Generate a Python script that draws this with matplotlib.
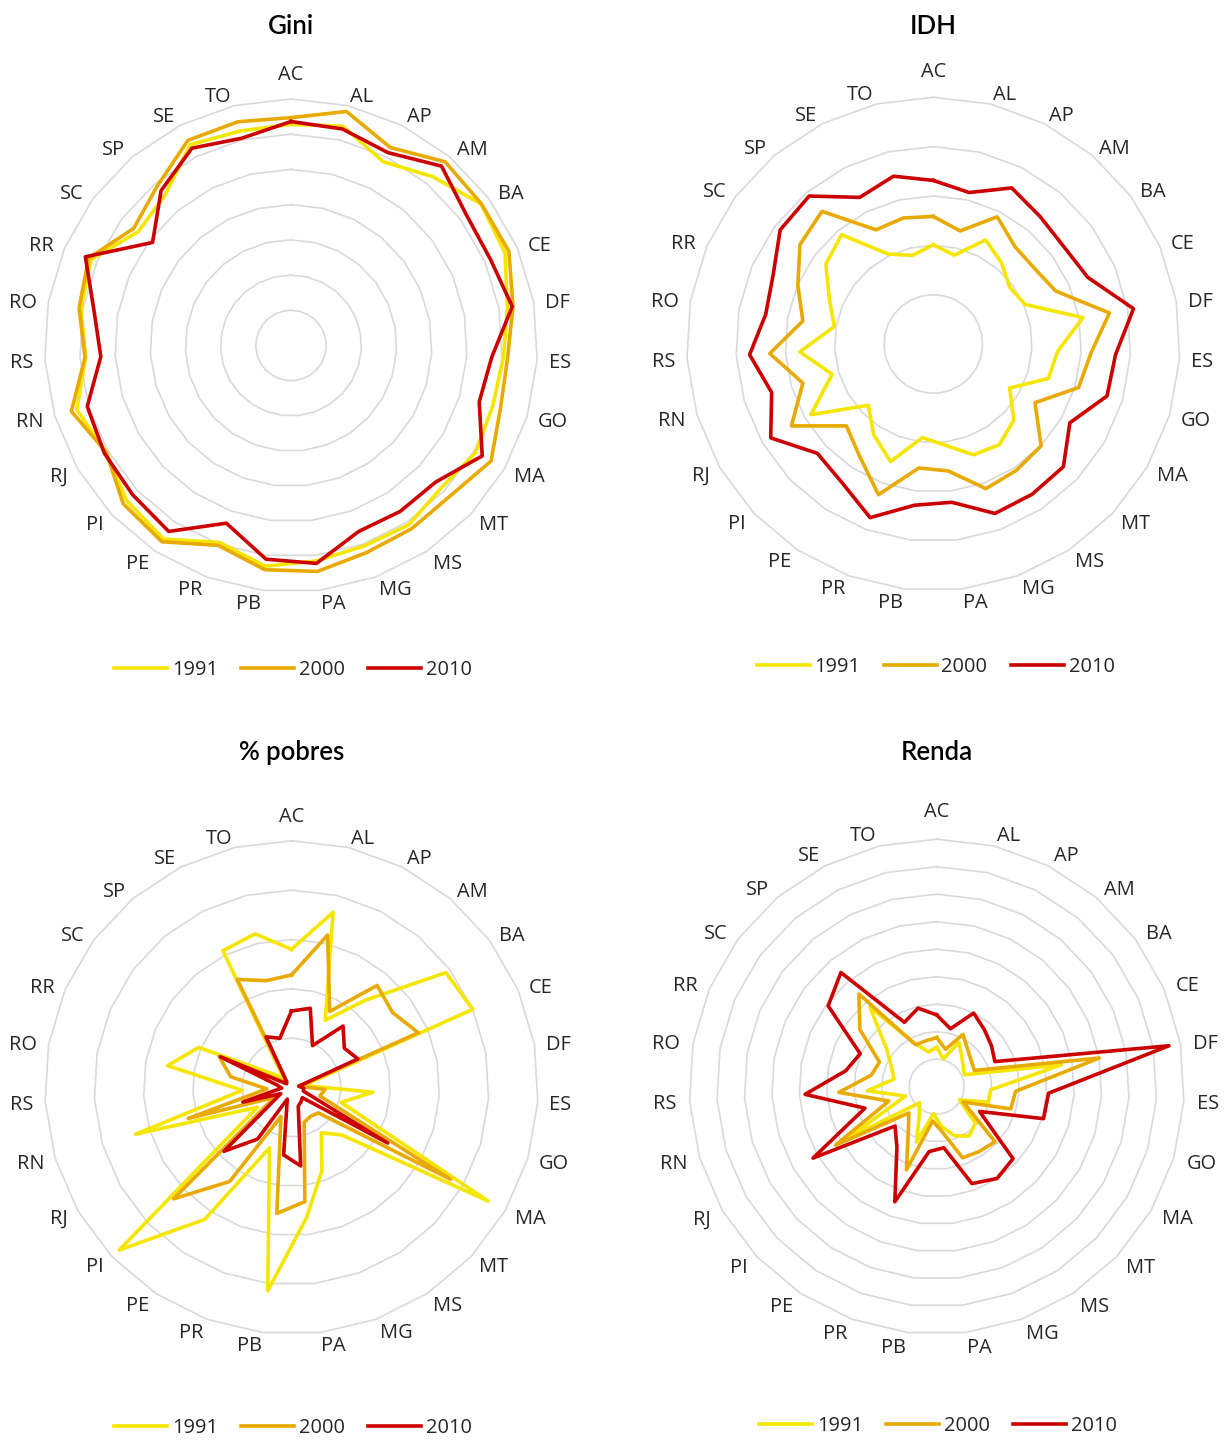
import numpy as np
import matplotlib
matplotlib.use("Agg")
import matplotlib.pyplot as plt

# Unidades da federação, em ordem alfabética do nome do estado
estados = ["AC", "AL", "AP", "AM", "BA", "CE", "DF", "ES", "GO", "MA", "MT", "MS", "MG",
           "PA", "PB", "PR", "PE", "PI", "RJ", "RN", "RS", "RO", "RR", "SC", "SP", "SE", "TO"]
anos = ["1991", "2000", "2010"]

# Índice de Gini
gini_1991 = [0.628, 0.640, 0.584, 0.626, 0.673, 0.662, 0.624, 0.604, 0.598, 0.606, 0.588, 0.609, 0.606,
             0.616, 0.631, 0.595, 0.658, 0.642, 0.606, 0.635, 0.584, 0.606, 0.618, 0.541, 0.557, 0.638, 0.626]
gini_2000 = [0.647, 0.683, 0.629, 0.681, 0.674, 0.674, 0.640, 0.616, 0.621, 0.656, 0.622, 0.623, 0.626,
             0.646, 0.641, 0.604, 0.667, 0.655, 0.606, 0.651, 0.586, 0.611, 0.626, 0.557, 0.591, 0.652, 0.653]
gini_2010 = [0.636, 0.632, 0.613, 0.665, 0.621, 0.617, 0.638, 0.571, 0.558, 0.627, 0.565, 0.564, 0.562,
             0.623, 0.611, 0.537, 0.632, 0.618, 0.612, 0.604, 0.541, 0.568, 0.636, 0.490, 0.574, 0.627, 0.605]

# IDH municipal agregado por estado
idh_1991 = [0.402, 0.370, 0.472, 0.430, 0.386, 0.405, 0.616, 0.505, 0.487, 0.357, 0.449, 0.488, 0.478,
            0.413, 0.382, 0.507, 0.440, 0.362, 0.573, 0.428, 0.542, 0.407, 0.459, 0.543, 0.578, 0.408, 0.369]
idh_2000 = [0.517, 0.471, 0.577, 0.515, 0.512, 0.541, 0.725, 0.640, 0.615, 0.476, 0.601, 0.613, 0.624,
            0.518, 0.506, 0.650, 0.544, 0.484, 0.664, 0.552, 0.664, 0.537, 0.598, 0.674, 0.702, 0.518, 0.525]
idh_2010 = [0.663, 0.631, 0.708, 0.674, 0.660, 0.682, 0.824, 0.740, 0.735, 0.639, 0.725, 0.729, 0.731,
            0.646, 0.658, 0.749, 0.673, 0.646, 0.761, 0.684, 0.746, 0.690, 0.707, 0.774, 0.783, 0.665, 0.699]

# Percentual de pobres
pobres_1991 = [56, 73, 30.5, 46, 78, 80, 5, 33, 21, 92, 28, 22, 36,
               53, 83, 26, 64, 96, 16, 66, 20, 51, 41, 9, 5, 62, 64]
pobres_2000 = [45.6, 63.5, 34.5, 54, 51, 56, 3, 13.6, 12, 74.5, 15, 14, 15,
               46.6, 51.4, 12.5, 45.6, 65.8, 8, 43.7, 10, 25, 32, 4, 3, 49, 44.5]
pobres_2010 = [31, 33, 19, 32.5, 26.7, 29.3, 3, 5, 5, 45, 6, 7, 8,
               32, 27.5, 5, 25, 37.7, 5, 20.6, 4, 6, 31.4, 2.5, 3, 23, 20.5]

# Renda per capita (R$)
renda_1991 = [286, 208, 362, 284, 241, 219, 921, 393, 391, 192, 387, 429, 380,
              290, 197, 429, 228, 170, 740, 237, 505, 315, 358, 452, 755, 351, 260]
renda_2000 = [357, 280, 426, 351, 314, 298, 1201, 575, 562, 223, 583, 564, 550,
              328, 251, 644, 375, 278, 850, 363, 713, 483, 453, 697, 880, 341, 343]
renda_2010 = [522, 433, 599, 540, 497, 461, 1715, 815, 811, 360, 763, 799, 750,
              447, 475, 891, 526, 417, 1039, 545, 959, 671, 606, 984, 1084, 524, 587]

W, H, DPI = 1226, 1443, 100
fig = plt.figure(figsize=(W / DPI, H / DPI), dpi=DPI)
fig.patch.set_facecolor("white")

cores = ["#F5E600", "#E8AA00", "#CC0000"]
GRADE = "#D9D9D9"
TEXTO = "#262626"
PX = 72.0 / DPI  # pontos por pixel


def radar(cx, cy, R, titulo, series, rmax, passo, ty, ly, lcx, gap, ac_gap):
    ax = fig.add_axes([(cx - R) / W, 1 - (cy + R) / H, 2 * R / W, 2 * R / H], projection="polar")
    ax.set_theta_zero_location("N")
    ax.set_theta_direction(-1)
    ax.set_ylim(0, rmax)
    ax.set_xticks([])
    ax.set_yticks([])
    ax.grid(False)
    ax.spines["polar"].set_visible(False)
    ax.patch.set_visible(False)

    theta = np.linspace(0, 2 * np.pi, len(estados), endpoint=False)
    tc = np.r_[theta, theta[0]]

    # anéis poligonais da grade
    for v in np.arange(passo, rmax + passo / 2, passo):
        ax.plot(tc, np.full(tc.shape, v), color=GRADE, lw=1.2, zorder=1, clip_on=False)

    for vals, cor, ano in zip(series, cores, anos):
        v = np.asarray(vals, dtype=float)
        ax.plot(tc, np.r_[v, v[0]], color=cor, lw=2.6, label=ano, zorder=2,
                clip_on=False, solid_joinstyle="round")

    for t, nome in zip(theta, estados):
        s, c = np.sin(t), np.cos(t)
        if abs(s) < 1e-6:
            off, ha = (0, ac_gap * PX), "center"
        else:
            off = (gap * s * PX, gap * c * PX)
            ha = "left" if s > 0 else "right"
        ax.annotate(nome, xy=(t, rmax), xytext=off, textcoords="offset points",
                    ha=ha, va="center_baseline", fontsize=14.4, family="Open Sans",
                    color=TEXTO, annotation_clip=False)

    fig.text(cx / W, 1 - ty / H, titulo, ha="center", va="center_baseline",
             fontsize=18.5, family="Lato", fontweight="semibold", color="black")

    ax.legend(loc="center", bbox_to_anchor=(lcx / W, 1 - ly / H), bbox_transform=fig.transFigure,
              ncol=3, frameon=False, prop={"family": "Open Sans", "size": 14.4},
              labelcolor=TEXTO, handlelength=2.65, handletextpad=0.25,
              columnspacing=1.15, borderpad=0, borderaxespad=0)
    return ax


radar(291.0, 345.5, 246.5, "Gini", [gini_1991, gini_2000, gini_2010], 0.7, 0.1,
      24, 670, 293, 11.5, 26.5)
radar(933.3, 344.0, 246.7, "IDH", [idh_1991, idh_2000, idh_2010], 1.0, 0.2,
      24, 667, 935.5, 11.5, 28)
radar(291.5, 1087.5, 246.7, "% pobres", [pobres_1991, pobres_2000, pobres_2010], 100, 20,
      750, 1428, 293, 11.5, 26)
radar(936.7, 1086.7, 247.5, "Renda", [renda_1991, renda_2000, renda_2010], 1800, 200,
      750, 1426, 938, 13, 30)

fig.savefig("out.png", dpi=DPI, facecolor="white")
